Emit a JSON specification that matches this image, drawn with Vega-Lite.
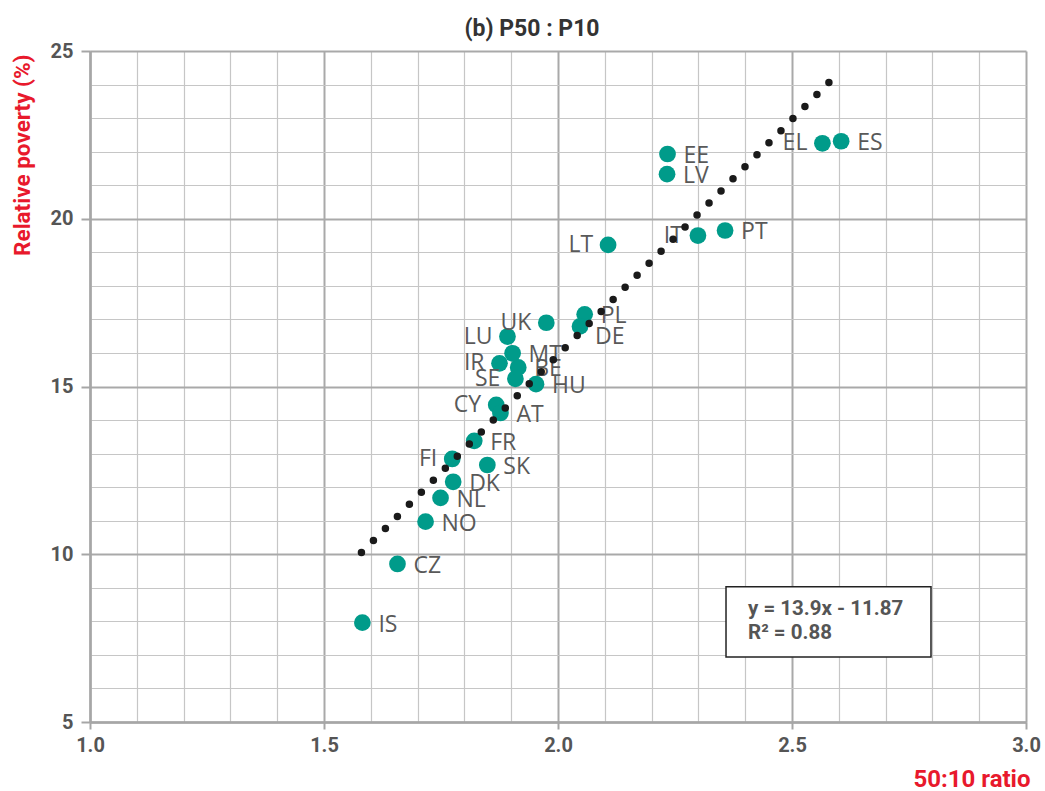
{
  "$schema": "https://vega.github.io/schema/vega-lite/v6.json",
  "width": 936,
  "height": 671,
  "autosize": "none",
  "padding": {"left": 90, "top": 51, "right": 19, "bottom": 69},
  "background": "white",
  "title": {"text": "(b) P50 : P10", "font": "Roboto", "fontSize": 23, "fontWeight": "bold", "color": "#333333", "anchor": "middle", "dx": -26, "offset": 0},
  "config": {"view": {"stroke": null}},
  "resolve": {"axis": {"x": "independent", "y": "independent"}},
  "datasets": {
    "countries": [
      {"country": "IS", "ratio": 1.582, "poverty": 7.96},
      {"country": "CZ", "ratio": 1.657, "poverty": 9.71},
      {"country": "NO", "ratio": 1.717, "poverty": 10.97},
      {"country": "NL", "ratio": 1.749, "poverty": 11.68},
      {"country": "DK", "ratio": 1.776, "poverty": 12.16},
      {"country": "FI", "ratio": 1.774, "poverty": 12.84},
      {"country": "SK", "ratio": 1.849, "poverty": 12.66},
      {"country": "FR", "ratio": 1.821, "poverty": 13.38},
      {"country": "CY", "ratio": 1.868, "poverty": 14.45},
      {"country": "AT", "ratio": 1.877, "poverty": 14.21},
      {"country": "SE", "ratio": 1.909, "poverty": 15.23},
      {"country": "HU", "ratio": 1.953, "poverty": 15.07},
      {"country": "BE", "ratio": 1.915, "poverty": 15.57},
      {"country": "MT", "ratio": 1.903, "poverty": 15.99},
      {"country": "IR", "ratio": 1.875, "poverty": 15.69},
      {"country": "LU", "ratio": 1.892, "poverty": 16.49},
      {"country": "UK", "ratio": 1.975, "poverty": 16.9},
      {"country": "PL", "ratio": 2.057, "poverty": 17.15},
      {"country": "DE", "ratio": 2.047, "poverty": 16.79},
      {"country": "LT", "ratio": 2.107, "poverty": 19.22},
      {"country": "IT", "ratio": 2.299, "poverty": 19.5},
      {"country": "PT", "ratio": 2.357, "poverty": 19.65},
      {"country": "LV", "ratio": 2.233, "poverty": 21.33},
      {"country": "EE", "ratio": 2.234, "poverty": 21.93},
      {"country": "EL", "ratio": 2.565, "poverty": 22.25},
      {"country": "ES", "ratio": 2.605, "poverty": 22.31}
    ],
    "trend": [
      {"ratio": 1.58, "poverty": 10.05},
      {"ratio": 2.58, "poverty": 24.08}
    ],
    "box": [
      {"ratio": 2.359, "ratio2": 2.797, "poverty": 9.03, "poverty2": 6.94}
    ],
    "equation": [
      {"ratio": 2.406, "poverty": 8.36, "label": "y = 13.9x - 11.87"},
      {"ratio": 2.406, "poverty": 7.66, "label": "R² = 0.88"}
    ]
  },
  "layer": [
    {
      "data": {"name": "trend"},
      "mark": {"type": "line", "opacity": 0},
      "encoding": {
        "x": {
          "field": "ratio", "type": "quantitative",
          "scale": {"domain": [1, 3], "nice": false, "zero": false},
          "axis": {
            "orient": "bottom", "title": null, "labels": false, "ticks": false, "domain": false,
            "values": [1.1, 1.2, 1.3, 1.4, 1.6, 1.7, 1.8, 1.9, 2.1, 2.2, 2.3, 2.4, 2.6, 2.7, 2.8, 2.9],
            "grid": true, "gridColor": "#c6c6c6", "gridWidth": 1.2
          }
        },
        "y": {
          "field": "poverty", "type": "quantitative",
          "scale": {"domain": [5, 25], "nice": false, "zero": false},
          "axis": {
            "orient": "left", "title": null, "labels": false, "ticks": false, "domain": false,
            "values": [6, 7, 8, 9, 11, 12, 13, 14, 16, 17, 18, 19, 21, 22, 23, 24],
            "grid": true, "gridColor": "#c6c6c6", "gridWidth": 1.2
          }
        }
      }
    },
    {
      "data": {"name": "countries"},
      "mark": {"type": "circle", "size": 280, "opacity": 1, "color": "#009b8a"},
      "encoding": {
        "x": {
          "field": "ratio", "type": "quantitative",
          "axis": {
            "orient": "bottom",
            "title": "50:10 ratio",
            "titleColor": "#e8192c", "titleFont": "Roboto", "titleFontSize": 24, "titleFontWeight": "bold",
            "titleAlign": "right", "titleBaseline": "middle", "titleX": 940, "titleY": 57,
            "values": [1, 1.5, 2, 2.5, 3],
            "format": ".1f",
            "labelFont": "Roboto", "labelFontSize": 20, "labelFontWeight": "bold", "labelColor": "#555555",
            "labelPadding": 6, "labelOverlap": false, "labelFlush": false,
            "domainColor": "#a6a6a6", "domainWidth": 2.5,
            "grid": true, "gridColor": "#a9a9a9", "gridWidth": 2,
            "tickColor": "#a6a6a6", "tickWidth": 2, "tickSize": 7
          }
        },
        "y": {
          "field": "poverty", "type": "quantitative",
          "axis": {
            "orient": "left",
            "title": "Relative poverty (%)",
            "titleColor": "#e8192c", "titleFont": "Roboto", "titleFontSize": 22.5, "titleFontWeight": "bold",
            "titleAngle": -90, "titleAlign": "right", "titleBaseline": "middle", "titleX": -68, "titleY": 3,
            "values": [5, 10, 15, 20, 25],
            "format": "d",
            "labelFont": "Roboto", "labelFontSize": 20, "labelFontWeight": "bold", "labelColor": "#555555",
            "labelPadding": 8, "labelOverlap": false, "labelFlush": false,
            "domainColor": "#a6a6a6", "domainWidth": 2.5,
            "grid": true, "gridColor": "#a9a9a9", "gridWidth": 2,
            "tickColor": "#a6a6a6", "tickWidth": 2, "tickSize": 9
          }
        }
      }
    },
    {
      "data": {"name": "countries"},
      "transform": [{"filter": {"field": "country", "oneOf": ["IS", "CZ", "NO", "NL", "DK", "SK", "FR", "AT", "HU", "BE", "MT", "PL", "PT", "LV", "EE", "ES"]}}],
      "mark": {"type": "text", "align": "left", "baseline": "middle", "dx": 16, "dy": 2, "font": "Open Sans", "fontSize": 23, "color": "#595959"},
      "encoding": {
        "x": {"field": "ratio", "type": "quantitative", "axis": null},
        "y": {"field": "poverty", "type": "quantitative", "axis": null},
        "text": {"field": "country"}
      }
    },
    {
      "data": {"name": "countries"},
      "transform": [{"filter": {"field": "country", "oneOf": ["DE"]}}],
      "mark": {"type": "text", "align": "left", "baseline": "middle", "dx": 15, "dy": 11, "font": "Open Sans", "fontSize": 23, "color": "#595959"},
      "encoding": {
        "x": {"field": "ratio", "type": "quantitative", "axis": null},
        "y": {"field": "poverty", "type": "quantitative", "axis": null},
        "text": {"field": "country"}
      }
    },
    {
      "data": {"name": "countries"},
      "transform": [{"filter": {"field": "country", "oneOf": ["LT", "IT", "EL", "UK", "LU", "IR", "SE", "CY", "FI"]}}],
      "mark": {"type": "text", "align": "right", "baseline": "middle", "dx": -15, "dy": 0, "font": "Open Sans", "fontSize": 23, "color": "#595959"},
      "encoding": {
        "x": {"field": "ratio", "type": "quantitative", "axis": null},
        "y": {"field": "poverty", "type": "quantitative", "axis": null},
        "text": {"field": "country"}
      }
    },
    {
      "data": {"name": "trend"},
      "mark": {"type": "line", "color": "#1a1a1a", "strokeWidth": 7.5, "strokeCap": "round", "strokeDash": [0, 17]},
      "encoding": {
        "x": {"field": "ratio", "type": "quantitative", "axis": null},
        "y": {"field": "poverty", "type": "quantitative", "axis": null}
      }
    },
    {
      "data": {"name": "box"},
      "mark": {"type": "rect", "fill": "white", "stroke": "#222222", "strokeWidth": 1.5},
      "encoding": {
        "x": {"field": "ratio", "type": "quantitative", "axis": null},
        "x2": {"field": "ratio2"},
        "y": {"field": "poverty", "type": "quantitative", "axis": null},
        "y2": {"field": "poverty2"}
      }
    },
    {
      "data": {"name": "equation"},
      "mark": {"type": "text", "align": "left", "baseline": "middle", "font": "Roboto", "fontSize": 20.5, "fontWeight": "bold", "color": "#555555"},
      "encoding": {
        "x": {"field": "ratio", "type": "quantitative", "axis": null},
        "y": {"field": "poverty", "type": "quantitative", "axis": null},
        "text": {"field": "label"}
      }
    }
  ]
}
